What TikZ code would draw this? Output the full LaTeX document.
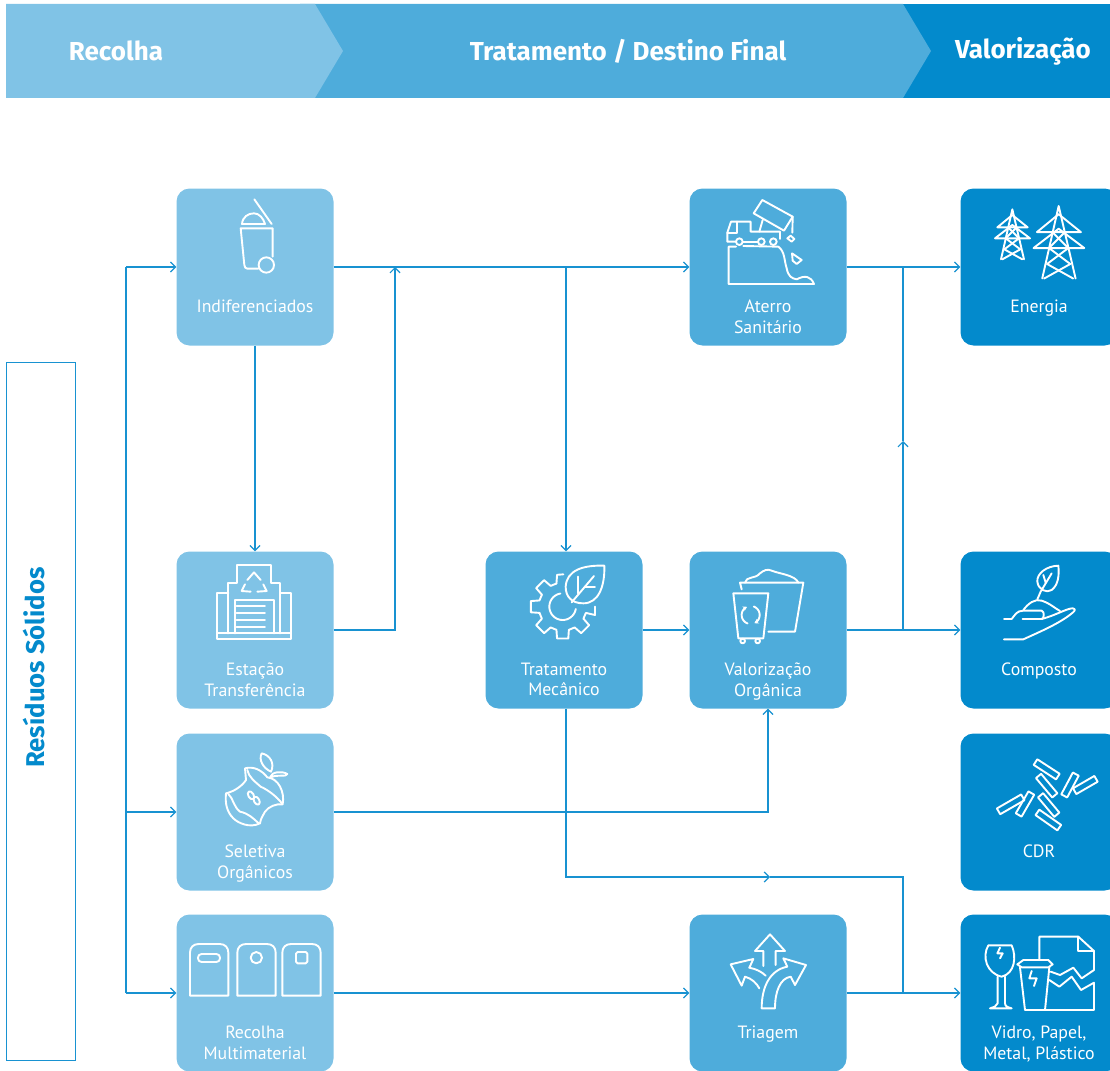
\documentclass[tikz,border=0pt]{standalone}
\usepackage{fontspec}
\setmainfont{PT Sans}
\newfontfamily\headfont{Fira Sans}
\definecolor{palecolor}{RGB}{128,195,230}
\definecolor{midcolor}{RGB}{78,172,219}
\definecolor{deepcolor}{RGB}{3,138,204}
\definecolor{linecolor}{RGB}{24,146,209}
\usetikzlibrary{arrows.meta,positioning}
\tikzset{
	box/.style={
		rectangle,
		rounded corners=13pt,
		minimum size=157pt,
		inner sep=0pt
	},
	palebox/.style={
		box,
		fill=palecolor
	},
	midbox/.style={
		box,
		fill=midcolor
	},
	deepbox/.style={
		box,
		fill=deepcolor
	},
	caption/.style={
		anchor=north,
		align=center,
		inner sep=0pt,
		text=white,
		font=\fontsize{17.8}{20.7}\selectfont
	},
	heading/.style={
		inner sep=0pt,
		text=white,
		font=\headfont\bfseries\fontsize{26}{30}\selectfont
	},
	arrow/.style={
		color=linecolor,
		line width=1.3pt,
		->,
		>={Straight Barb[length=5pt,width=10pt,line width=1.2pt]}
	},
	wire/.style={
		draw=linecolor,
		line width=1.3pt
	},
	icon/.style={
		draw=white,
		line width=1.9pt,
		line join=round,
		line cap=round
	},
	zoomed/.style 2 args={
		xshift=#1pt,
		yshift=-#2pt,
		x=0.33333pt,
		y=-0.33333pt
	},
}

\begin{document}
\begin{tikzpicture}[x=1pt,y=-1pt,on grid]
	\useasboundingbox (0,0) rectangle (1110,1070);
	\clip (0,0) rectangle (1110,1070);
	% header band
	\fill[deepcolor] (900,4) rectangle (1110,98);
	\fill[midcolor] (300,4) -- (903,4) -- (931,51) -- (903,98) -- (300,98) -- cycle;
	\fill[palecolor] (6,4) -- (315,4) -- (343,51) -- (315,98) -- (6,98) -- cycle;
	\node[heading] (recolha) at (116,51) {Recolha};
	\node[heading] (destino) at (628,51) {Tratamento / Destino Final};
	\node[heading] (valor) at (1023,51) {Valorização};
	\node[draw=linecolor,line width=1pt,minimum width=69pt,minimum height=698pt,inner sep=0pt] (solidos) at (40.5,711) {};
	\node[rotate=90,inner sep=0pt,text=deepcolor,font=\headfont\bfseries\fontsize{25.7}{30}\selectfont] (solidosText) at (34,667.5) {Resíduos Sólidos};

	\node[palebox] (indif) at (255,267) {};
	\node[palebox] (estacao) [below=363pt of indif] {};
	\node[palebox] (seletiva) [below=182pt of estacao] {};
	\node[palebox] (multi) [below=181pt of seletiva] {};
	\node[midbox] (mecanico) [right=309pt of estacao] {};
	\node[midbox] (organica) [right=204pt of mecanico] {};
	\node[midbox] (aterro) [above=363pt of organica] {};
	\node[midbox] (triagem) [right=513pt of multi] {};
	\node[deepbox] (energia) [right=271pt of aterro] {};
	\node[deepbox] (composto) [right=271pt of organica] {};
	\node[deepbox] (cdr) [right=784pt of seletiva] {};
	\node[deepbox] (vidro) [right=271pt of triagem] {};

	\node[caption] (indifText) at ([yshift=-32.5pt]indif.center) {Indiferenciados};
	\node[caption] (estacaoText) at ([yshift=-32.5pt]estacao.center) {Estação\\Transferência};
	\node[caption] (seletivaText) at ([yshift=-32.5pt]seletiva.center) {Seletiva\\Orgânicos};
	\node[caption] (multiText) at ([yshift=-33pt]multi.center) {Recolha\\Multimaterial};
	\node[caption] (mecanicoText) at ([yshift=-32.5pt]mecanico.center) {Tratamento\\Mecânico};
	\node[caption] (organicaText) at ([yshift=-32.5pt]organica.center) {Valorização\\Orgânica};
	\node[caption] (aterroText) at ([yshift=-32.5pt]aterro.center) {Aterro\\Sanitário};
	\node[caption] (triagemText) at ([yshift=-33pt]triagem.center) {Triagem};
	\node[caption] (energiaText) at ([yshift=-32.5pt]energia.center) {Energia};
	\node[caption] (compostoText) at ([yshift=-32.5pt]composto.center) {Composto};
	\node[caption] (cdrText) at ([yshift=-32.5pt]cdr.center) {CDR};
	\node[caption] (vidroText) at ([yshift=-33pt]vidro.center) {Vidro, Papel,\\Metal, Plástico};

	\coordinate (feedTop) at (126,267);
	\coordinate (feedMid) at (126,812);
	\coordinate (feedLow) at (126,993);
	\coordinate (joinA) at (395,267);
	\coordinate (joinB) at (566,267);
	\coordinate (joinC) at (903,267);
	\coordinate (joinD) at (903,630);
	\coordinate (joinE) at (903,993);
	\coordinate (upTip) at (903,441);
	\coordinate (rejTip) at (770,877);
	\coordinate (mecTop) at ([xshift=2pt]mecanico.north);
	\coordinate (mecLow) at ([xshift=2pt]mecanico.south);

	\draw[wire] (feedLow) -- (feedTop);
	\path[arrow]
		(feedTop) edge (indif)
		(feedMid) edge (seletiva)
		(feedLow) edge (multi)
		(indif) edge (estacao)
		(indif) edge (aterro)
		(joinB) edge (mecTop)
		(mecanico) edge (organica)
		(aterro) edge (energia)
		(organica) edge (composto)
		(multi) edge (triagem)
		(triagem) edge (vidro);
	\draw[arrow] (estacao.east) -| (joinA);
	\draw[arrow] (seletiva.east) -| (organica.south);
	\draw[arrow] (mecLow) |- (rejTip);
	\draw[wire] (rejTip) -| (joinE);
	\draw[arrow] (joinD) -- (upTip);
	\draw[wire] (upTip) -- (joinC);

	% bin
	\begin{scope}[zoomed={0}{0}]
		\draw[icon] (763,598) -- (815,672);
		\draw[icon] (726,672) .. controls (728,650) and (745,640) .. (762,640) .. controls (778,640) and (790,655) .. (795,672) -- cycle;
		\draw[icon] (818,770) -- (818,685) -- (722,685) -- (733,795) .. controls (734,802) and (737,806) .. (742,806) -- (775,806);
		\draw[icon] (799,795) circle (23);
	\end{scope}
	% landfill and towers
	\begin{scope}[zoomed={660}{170}]
		\draw[icon] (228,230) -- (206,230) -- (206,342) -- (462,342) .. controls (452,318) and (435,315) .. (410,328) .. controls (395,325) and (385,320) .. (380,295) .. controls (372,270) and (375,245) .. (355,230) -- (250,228);
		\draw[icon] (228,215) -- (202,215) -- (202,188) -- (213,155) -- (272,155) -- (272,185) -- (360,185) -- (360,207);
		\draw[icon] (232,155) -- (232,188) -- (202,188);
		\draw[icon] (250,215) -- (294,215);
		\foreach \wx in {238,304,340}
			\draw[icon] (\wx,215) circle (10);
		\draw[icon] (307,90) -- (398,140) -- (372,182) -- (281,130) -- cycle;
		\draw[icon] (308,150) -- (298,185);
		\draw[icon] (398,140) -- (397,188);
		\draw[icon] (382,205) -- (392,197) -- (403,207) -- (395,215) -- cycle;
		\draw[icon] (396,250) -- (425,270) -- (410,282) -- (398,272) -- cycle;
		\foreach \tx/\ty/\ts in {1057/118/1,1196/108/1.45} {
			\begin{scope}[shift={(\tx,\ty)},scale=\ts]
				\draw[icon] (-34,150) -- (0,0) -- (35,150);
				\draw[icon] (-45,54) -- (0,17) -- (46,54) -- cycle;
				\draw[icon] (-52,87) -- (0,47) -- (53,87) -- cycle;
				\draw[icon] (-13,54) -- (20,87) -- (-24,120) -- (30,150);
				\draw[icon] (13,54) -- (-20,87) -- (24,120) -- (-30,150);
			\end{scope}
		}
	\end{scope}
	% transfer station, gear and apple
	\begin{scope}[zoomed={170}{540}]
		\draw[icon] (140,280) rectangle (364,298);
		\draw[icon] (142,280) -- (142,158) -- (175,158);
		\draw[icon] (362,280) -- (362,158) -- (330,158);
		\draw[icon] (175,280) -- (175,130) -- (202,130) -- (202,75) -- (303,75) -- (303,130) -- (330,130) -- (330,280);
		\draw[icon] (195,280) -- (195,180) -- (312,180) -- (312,280);
		\foreach \sy in {198,219,240,261}
			\draw[icon] (200,\sy) -- (285,\sy);
		\draw[icon] (232,120) -- (252,97) -- (272,120);
		\draw[icon] (225,133) -- (215,153) -- (242,155);
		\draw[icon] (280,133) -- (290,153) -- (262,155);
		\begin{scope}[shift={(1178,200)}]
			\foreach \a in {-135,-180,-225,-270,-315}
				\draw[icon] (\a-15:72) -- (\a-10:97) -- (\a+10:97) -- (\a+15:72) -- (\a+30:72);
			\draw[icon] (2,-97) -- (-100:97) -- (-105:72);
			\draw[icon] (97,0) -- (97,25) -- (15:72) -- (30:72);
			\draw[icon] plot[domain=-100:-350,samples=30] ({40*cos(\x)},{40*sin(\x)});
		\end{scope}
		\draw[icon] (1303,77) .. controls (1240,75) and (1190,90) .. (1187,140) .. controls (1187,170) and (1205,190) .. (1240,190) .. controls (1285,190) and (1305,140) .. (1303,77) -- cycle;
		\draw[icon] (1205,187) -- (1272,108);
		\draw[icon] (1225,160) -- (1225,110);
		\draw[icon] (1245,140) -- (1275,140);
		\draw[icon] (275,640) .. controls (300,645) and (315,670) .. (303,695) .. controls (280,685) and (265,660) .. (275,640) -- cycle;
		\draw[icon] (300,712) .. controls (305,695) and (335,692) .. (352,702) .. controls (350,712) and (320,702) .. (303,712);
		\draw[icon] (225,685) .. controls (250,678) and (275,690) .. (292,712) .. controls (325,715) and (345,755) .. (338,793) .. controls (320,790) and (295,800) .. (285,815) .. controls (280,825) and (272,835) .. (270,850) .. controls (240,865) and (205,850) .. (190,835) .. controls (170,815) and (165,790) .. (168,760) .. controls (190,755) and (215,740) .. (228,720) -- cycle;
		\draw[icon] (232,690) .. controls (235,710) and (255,725) .. (272,740) .. controls (295,750) and (320,770) .. (336,790);
		\draw[icon] (175,762) .. controls (190,775) and (190,800) .. (210,815) .. controls (235,820) and (250,835) .. (266,850);
		\draw[icon,rotate around={-60:(243,766)}] (243,766) ellipse (13 and 8);
		\draw[icon,rotate around={-60:(260,782)}] (260,782) ellipse (13 and 8);
	\end{scope}
	% organic recovery, compost and sticks
	\begin{scope}[zoomed={680}{540}]
		\draw[icon] (185,148) -- (180,128) -- (370,128) -- (345,275) -- (265,275);
		\draw[icon] (195,128) .. controls (198,108) and (225,118) .. (240,100) .. controls (250,92) and (262,85) .. (275,92) .. controls (300,102) and (345,105) .. (355,128);
		\draw[icon] (160,160) -- (265,160) -- (250,295) -- (175,295) -- cycle;
		\foreach \wx in {188,233}
			\draw[icon] (\wx,303) circle (7);
		\draw[icon,-{Stealth[length=4pt,width=5pt]}] plot[domain=110:245,samples=16] ({212+27*cos(\x)},{225+27*sin(\x)});
		\draw[icon,-{Stealth[length=4pt,width=5pt]}] plot[domain=-70:65,samples=16] ({212+27*cos(\x)},{225+27*sin(\x)});
		\draw[icon] (1135,77) .. controls (1100,78) and (1070,100) .. (1072,125) .. controls (1075,150) and (1100,160) .. (1115,150) .. controls (1135,135) and (1138,105) .. (1135,77) -- cycle;
		\draw[icon] (1072,178) -- (1082,155) -- (1115,100);
		\draw[icon] (1097,128) -- (1090,105);
		\draw[icon] (1030,210) .. controls (1045,190) and (1065,175) .. (1085,182) .. controls (1110,190) and (1125,205) .. (1140,213);
		\draw[icon] (972,237) -- (995,237) .. controls (1005,225) and (1010,212) .. (1030,212) -- (1085,212) .. controls (1095,215) and (1092,237) .. (1085,237) -- (1028,237);
		\draw[icon] (1085,237) .. controls (1130,225) and (1160,205) .. (1178,205) .. controls (1188,207) and (1185,212) .. (1178,218) .. controls (1140,250) and (1080,275) .. (1030,298) -- (972,298);
		\foreach \cx/\cy/\ca/\cl in {1100/688/33/40,1100/737/50/38,1106/795/50/38,1105/840/35/40,1170/735/-62/37,1216/735/-30/37,992/793/-30/42,1035/792/-60/38}
			\draw[icon,shift={(\cx,\cy)},rotate=-\ca] (-\cl,-10) rectangle (\cl,10);
	\end{scope}
	% three containers
	\begin{scope}[zoomed={170}{900}]
		\foreach \bx in {60,202,337}
			\draw[icon] (\bx,287) -- (\bx,158) .. controls (\bx,142) and (\bx+10,132) .. (\bx+26,132) -- (\bx+89,132) .. controls (\bx+105,132) and (\bx+115,142) .. (\bx+115,158) -- (\bx+115,287) -- cycle;
		\draw[icon,rounded corners=3.6pt] (84,162) rectangle (150,186);
		\draw[icon] (259,173) circle (17);
		\draw[icon,rounded corners=1.6pt] (378,156) rectangle (412,190);
	\end{scope}
	% sorting arrows, glass, cup and paper
	\begin{scope}[zoomed={680}{870}]
		\draw[icon] (250,288) -- (250,243) -- (225,243) -- (270,193) -- (315,243) -- (287,243) -- (287,285);
		\draw[icon] (245,415) .. controls (245,350) and (270,300) .. (322,290) -- (310,265) -- (378,285) -- (345,345) -- (332,320) .. controls (300,325) and (285,365) .. (285,415) -- cycle;
		\draw[icon] (257,317) .. controls (245,305) and (228,297) .. (208,293) -- (220,267) -- (152,283) -- (185,347) -- (195,320) .. controls (215,325) and (230,340) .. (238,355);
		\draw[icon] (925,226) -- (995,226) .. controls (1010,260) and (1005,310) .. (965,320) .. controls (920,310) and (905,260) .. (925,226) -- cycle;
		\draw[icon] (953,320) -- (953,400) .. controls (950,410) and (940,412) .. (930,415) -- (995,415) .. controls (985,412) and (975,410) .. (975,400) -- (975,320);
		\draw[icon] (960,233) -- (952,250) -- (968,250) -- (960,265);
		\draw[icon] (1030,270) -- (1105,270) -- (1118,283) -- (1105,292) -- (1025,292) -- (1012,283) -- cycle;
		\draw[icon] (1020,292) -- (1035,420) -- (1095,420) -- (1108,292);
		\draw[icon] (1055,303) -- (1048,325) -- (1070,325) -- (1062,348);
		\draw[icon] (1078,268) -- (1078,200) -- (1195,200) -- (1242,243) -- (1242,300) -- (1205,325) -- (1180,293) -- (1140,315) -- (1112,305);
		\draw[icon] (1195,200) -- (1195,243) -- (1242,243);
		\draw[icon] (1108,330) -- (1138,350) -- (1175,320) -- (1203,360) -- (1242,338) -- (1242,420) -- (1095,420);
	\end{scope}
\end{tikzpicture}
\end{document}
